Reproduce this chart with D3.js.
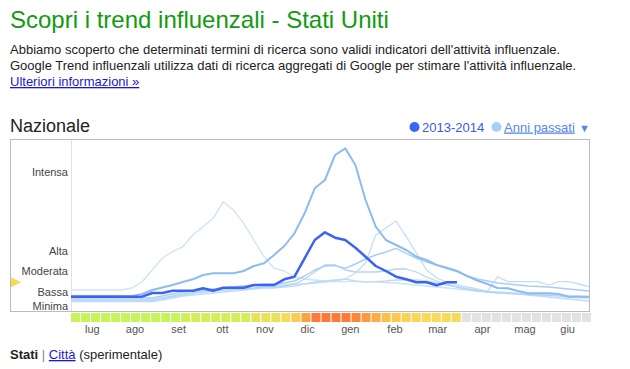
<!DOCTYPE html>
<html>
<head>
<meta charset="utf-8">
<script src="https://cdn.jsdelivr.net/npm/d3@7"></script>
<style>
  html, body { margin: 0; padding: 0; background: #fff; }
  svg { display: block; font-family: Arial, "Liberation Sans", Helvetica, sans-serif; }
</style>
</head>
<body>
<svg id="chart" width="630" height="369"></svg>
<script>
// ---------- DATA ----------
const monthLabels = ["lug","ago","set","ott","nov","dic","gen","feb","mar","apr","mag","giu"];
const monthWeek = [2.1, 6.3, 10.6, 14.9, 19.1, 23.3, 27.5, 31.9, 36.1, 40.5, 44.7, 48.9];
const levelLabels = ["Intensa","Alta","Moderata","Bassa","Minima"];
const levelValues = [139, 60, 40, 19.5, 5];

// current season 2013-2014 (39 weeks)
const season2013 = [14.3,14.3,14.3,14.3,14.3,14.3,14.3,14.3,18,18,20.3,20.3,20.3,22.7,20.3,23.3,23.3,23.3,26,26,26,31.7,34.3,52.7,71,78.7,73.3,71,63.3,54.3,45,40,34.3,31.7,28.7,28.7,25.7,28.7,28.7];

// past seasons (52 weeks each)
const seasonB = [15,15,15,15,15,15,15,17,21,23.5,26,29,31.7,36,37.7,37.7,37.7,40,45,47.7,56,65,77.7,97.7,122.7,131,156,162.7,146,111,84.3,71,66,61,54.3,51,46,43.3,40,35,30.5,27,23,22.7,20,17.7,17.7,17.7,17,14.3,14.3,14.3];
const seasonA = [21,21,21,21,21,21,23,29.3,41,53,59.3,64.3,76,84.3,92.7,109.3,101,87.7,71,54.3,42.7,40,34.3,32,31,30,29.3,29.3,29.3,29.3,29,28.5,28,27,26,25,24,23,22,21,20,19.5,19,18.5,18,17.5,17,16.5,16,15.5,15,14.5];
const seasonC = [10.5,10.5,10.5,10.5,10.5,10.5,10.5,10.5,10.5,12,14,16,18,20,22,23,24,25,25,26,26,26,27,27,28,29,30,32,38,48,76,83,90,74.3,58,41,33,29,26,24,22,19.3,34.3,29.3,29.3,29.3,29.3,26,29.3,29.3,27,24.3];
const seasonD = [13,13,13,13,13,13,13,13,13,15,17,19,20,21,22,23,24,25,26,27,27,28,30,35,41,45,45.5,42.7,47,52,56,59,62.7,57.7,52.7,49,46,42.5,39.3,35,32,30,28,27,26,25,24.5,24,23,22,21,20];
const seasonE = [11,11,11,11,11,11,11,11,11,13,15,17,18,19,20,21,21.5,22,23,24,24,25,27,32,39,46,46,41,39,39,39,40,42,42,39,34,30,27,24,22,20,19,18,18,17,16.5,16,15.5,15,14,13.5,13];
const seasonF = [9.3,9.3,9.3,9.3,9.3,9.3,9.3,9.3,9.3,11,13,15,16,17,18,19,20,21,22,23,23,24,25,27,29,30,31,32,30,29,29.3,30,31,31,31,30,28,26,24,22,21,19.5,18.5,17.5,17,16,15,14,13,12,11,10];

// weekly activity level shown in the strip (0 = minima ... 1 = intensa)
const weeklyLevel = [0,0,0,0,0,0,0,0,0,0,0,0.12,0.12,0.12,0.12,0.12,0.12,0.12,0.25,0.25,0.25,0.4,0.55,0.75,1,1,1,1,0.92,0.8,0.7,0.62,0.57,0.5,0.48,0.46,0.45,0.43,0.42];
const totalWeeks = 52;

// ---------- DRAW ----------
const svg = d3.select("#chart");
const font = 'Arial, "Liberation Sans", Helvetica, sans-serif';

// header texts
svg.append("text").attr("x", 10).attr("y", 28).attr("font-size", 24).attr("fill", "#119a11")
  .text("Scopri i trend influenzali - Stati Uniti");
const para = [
  "Abbiamo scoperto che determinati termini di ricerca sono validi indicatori dell'attività influenzale.",
  "Google Trend influenzali utilizza dati di ricerca aggregati di Google per stimare l'attività influenzale."
];
para.forEach((t, i) => {
  svg.append("text").attr("x", 10).attr("y", 54 + i * 16).attr("font-size", 13).attr("fill", "#222").text(t);
});
svg.append("text").attr("x", 10).attr("y", 86).attr("font-size", 13).attr("fill", "#1a1acc")
  .attr("text-decoration", "underline").text("Ulteriori informazioni »");

svg.append("text").attr("x", 10).attr("y", 132).attr("font-size", 18).attr("fill", "#222").text("Nazionale");

// legend
svg.append("circle").attr("cx", 414.5).attr("cy", 127).attr("r", 5).attr("fill", "#3a64f4");
svg.append("text").attr("x", 422).attr("y", 131.5).attr("font-size", 13).attr("fill", "#3a5ae8").text("2013-2014");
svg.append("circle").attr("cx", 496.5).attr("cy", 127).attr("r", 5).attr("fill", "#a9cff6");
svg.append("text").attr("x", 504).attr("y", 131.5).attr("font-size", 13).attr("fill", "#5585ee")
  .attr("text-decoration", "underline").text("Anni passati");
svg.append("text").attr("x", 579).attr("y", 131.5).attr("font-size", 11).attr("fill", "#5585ee").text("▼");

// scales
const plotL = 71, plotR = 589, plotT = 139, plotB = 311;
const x = d3.scaleLinear().domain([0, totalWeeks - 1]).range([plotL, plotR]);
const y = d3.scaleLinear().domain([0, 172]).range([plotB, plotT]);

// frame
svg.append("rect").attr("x", 10.5).attr("y", plotT + 0.5).attr("width", plotR - 10).attr("height", plotB - plotT)
  .attr("fill", "#fff").attr("stroke", "#bbb");
svg.append("line").attr("x1", plotL + 0.5).attr("x2", plotL + 0.5).attr("y1", plotT + 1).attr("y2", plotB)
  .attr("stroke", "#e2e2e2");

// level labels (y axis)
const yAxis = d3.axisLeft(y).tickValues(levelValues).tickFormat((d, i) => levelLabels[i]).tickSize(0).tickPadding(3);
const yg = svg.append("g").attr("transform", `translate(${plotL},0)`).call(yAxis);
yg.select(".domain").remove();
yg.selectAll("text").attr("font-size", 11).attr("fill", "#444").attr("font-family", font);

// lines
const line = d3.line().x((d, i) => x(i)).y(d => y(d));
const past = [
  { data: seasonA, color: "#cde3fa", w: 1.3 },
  { data: seasonC, color: "#c3ddf9", w: 1.3 },
  { data: seasonF, color: "#c0dbf8", w: 1.3 },
  { data: seasonE, color: "#b4d4f7", w: 1.3 },
  { data: seasonD, color: "#a9cdf5", w: 1.4 },
  { data: seasonB, color: "#8bbcf0", w: 2 }
];
past.forEach(s => {
  svg.append("path").attr("d", line(s.data)).attr("fill", "none").attr("stroke", s.color)
    .attr("stroke-width", s.w).attr("stroke-linejoin", "round");
});
svg.append("path").attr("d", line(season2013)).attr("fill", "none").attr("stroke", "#3d63f2")
  .attr("stroke-width", 2.5).attr("stroke-linejoin", "round");

// current level marker
const lastVal = season2013[season2013.length - 1];
svg.append("path")
  .attr("d", `M11,${y(lastVal) - 5}L21,${y(lastVal)}L11,${y(lastVal) + 5}Z`)
  .attr("fill", "#f7d94c");

// weekly strip
const band = d3.scaleBand().domain(d3.range(totalWeeks)).range([plotL, plotL + totalWeeks * 10]).paddingInner(0.1);
const levelColor = d3.scaleLinear()
  .domain([0, 0.12, 0.25, 0.45, 0.6, 0.75, 1])
  .range(["#c6f45a", "#d4ed5a", "#e6e35a", "#f9da5a", "#fbc44e", "#fba342", "#fc7a3a"]);
svg.append("g").selectAll("rect").data(d3.range(totalWeeks)).join("rect")
  .attr("x", d => band(d)).attr("y", 313).attr("width", band.bandwidth()).attr("height", 9)
  .attr("fill", d => d < weeklyLevel.length ? levelColor(weeklyLevel[d]) : "#e2e2e2");

// month labels
svg.append("g").selectAll("text").data(monthLabels).join("text")
  .attr("x", (d, i) => x(monthWeek[i])).attr("y", 333).attr("text-anchor", "middle")
  .attr("font-size", 11).attr("fill", "#555").text(d => d);

// footer
const foot = svg.append("text").attr("x", 10).attr("y", 359).attr("font-size", 13).attr("fill", "#222");
foot.append("tspan").attr("font-weight", "bold").text("Stati");
foot.append("tspan").attr("fill", "#888").text(" | ");
foot.append("tspan").attr("fill", "#1a1acc").attr("text-decoration", "underline").text("Città");
foot.append("tspan").text(" (sperimentale)");
</script>
</body>
</html>
